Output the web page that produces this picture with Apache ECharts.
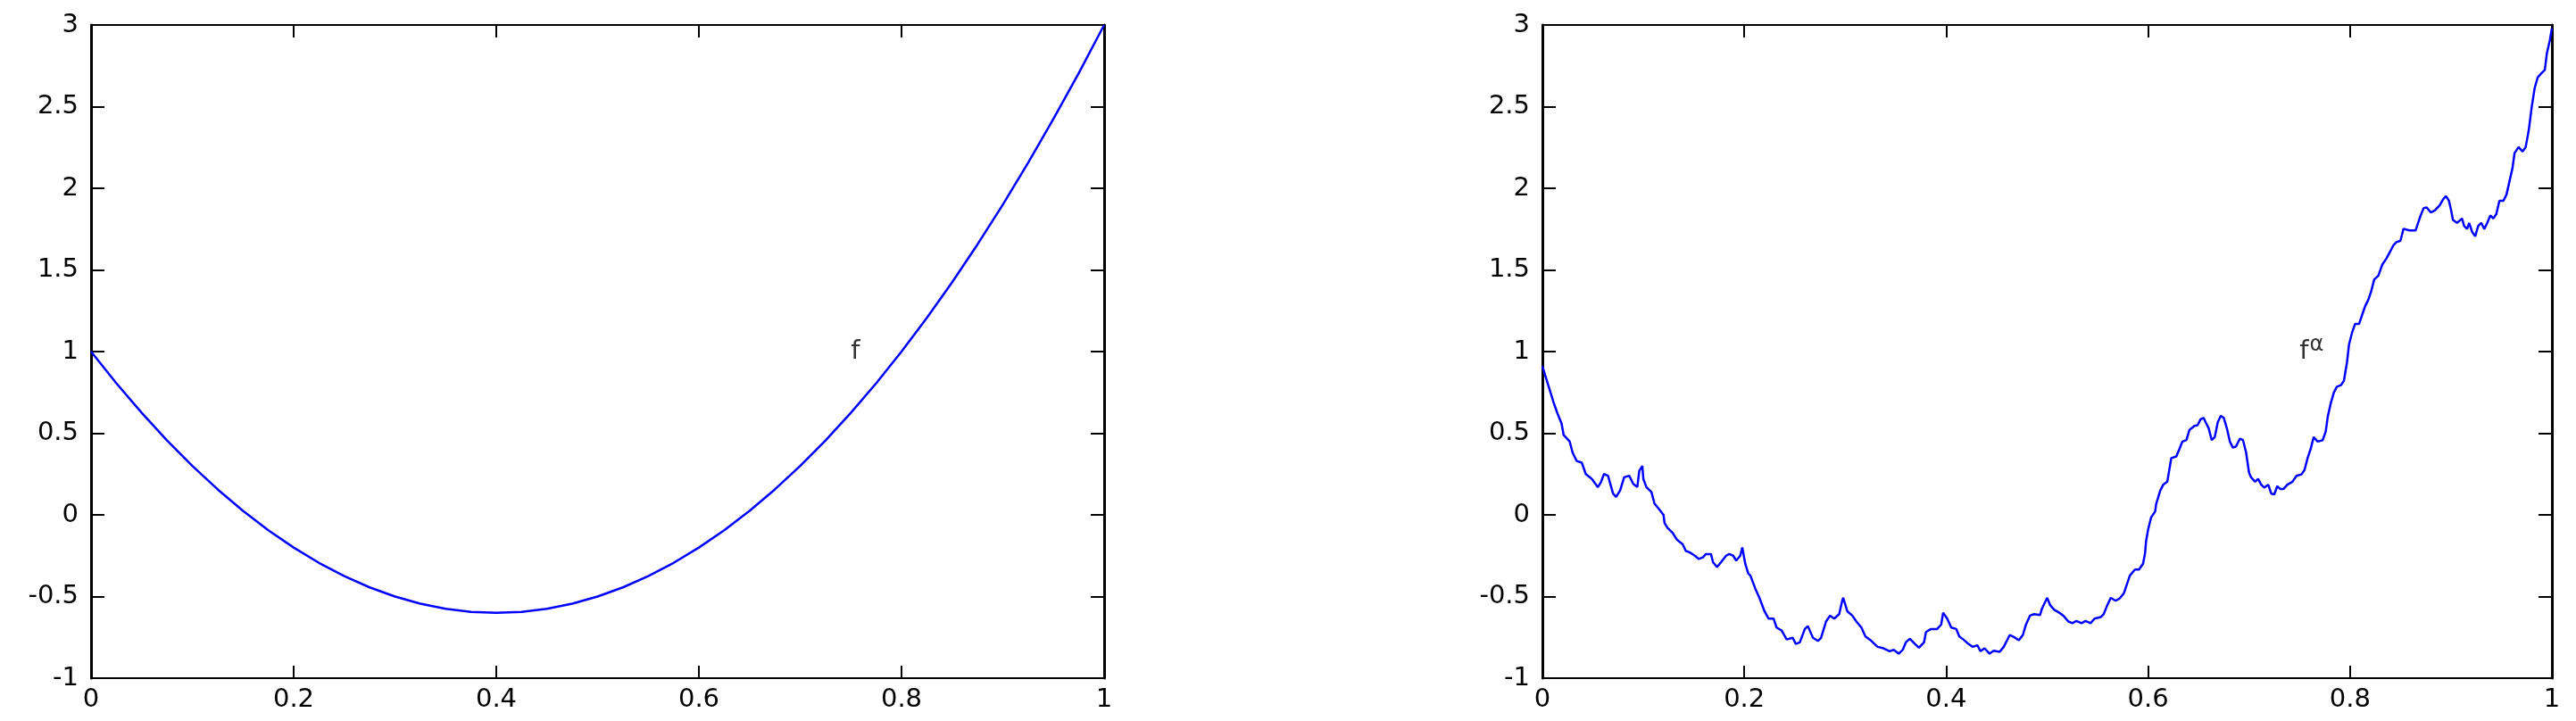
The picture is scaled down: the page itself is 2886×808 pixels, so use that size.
<!DOCTYPE html>
<html>
<head>
<meta charset="utf-8">
<script src="https://cdn.jsdelivr.net/npm/echarts@6/dist/echarts.min.js"></script>
<style>
html,body{margin:0;padding:0;background:#fff;}
#chart{width:2886px;height:808px;}
</style>
</head>
<body>
<div id="chart"></div>
<script>
// ---- data ----
const xTicks = ['0', '0.2', '0.4', '0.6', '0.8', '1'];
const yTicks = ['-1', '-0.5', '0', '0.5', '1', '1.5', '2', '2.5', '3'];

const leftX = [0, 0.025, 0.05, 0.075, 0.1, 0.125, 0.15, 0.175, 0.2, 0.225, 0.25, 0.275, 0.3, 0.325, 0.35, 0.375, 0.4,
  0.425, 0.45, 0.475, 0.5, 0.525, 0.55, 0.575, 0.6, 0.625, 0.65, 0.675, 0.7, 0.725, 0.75, 0.775, 0.8, 0.825, 0.85,
  0.875, 0.9, 0.925, 0.95, 0.975, 1];
const leftY = [1, 0.806, 0.625, 0.456, 0.3, 0.156, 0.025, -0.094, -0.2, -0.294, -0.375, -0.444, -0.5, -0.544, -0.575,
  -0.594, -0.6, -0.594, -0.575, -0.544, -0.5, -0.444, -0.375, -0.294, -0.2, -0.094, 0.025, 0.156, 0.3, 0.456, 0.625,
  0.806, 1, 1.206, 1.425, 1.656, 1.9, 2.156, 2.425, 2.706, 3];

const rightX = [0, 0.006, 0.011, 0.015, 0.019, 0.021, 0.027, 0.030, 0.034, 0.039, 0.043, 0.049, 0.055, 0.058, 0.061,
  0.065, 0.070, 0.073, 0.077, 0.081, 0.086, 0.090, 0.094, 0.096, 0.099, 0.100, 0.103, 0.108, 0.111, 0.115, 0.120,
  0.121, 0.124, 0.129, 0.133, 0.139, 0.142, 0.146, 0.151, 0.155, 0.159, 0.162, 0.167, 0.169, 0.173, 0.177, 0.182,
  0.185, 0.189, 0.192, 0.196, 0.198, 0.201, 0.204, 0.206, 0.211, 0.215, 0.220, 0.224, 0.229, 0.232, 0.237, 0.242,
  0.248, 0.251, 0.255, 0.260, 0.263, 0.268, 0.273, 0.276, 0.281, 0.285, 0.289, 0.294, 0.297, 0.298, 0.302, 0.307,
  0.311, 0.316, 0.320, 0.326, 0.332, 0.338, 0.344, 0.348, 0.353, 0.357, 0.360, 0.364, 0.369, 0.373, 0.378, 0.380,
  0.385, 0.391, 0.395, 0.397, 0.401, 0.405, 0.410, 0.413, 0.417, 0.422, 0.426, 0.431, 0.434, 0.438, 0.443, 0.447,
  0.453, 0.457, 0.460, 0.463, 0.467, 0.472, 0.476, 0.479, 0.483, 0.487, 0.493, 0.495, 0.500, 0.503, 0.507, 0.512,
  0.516, 0.521, 0.525, 0.529, 0.534, 0.538, 0.543, 0.547, 0.553, 0.556, 0.559, 0.563, 0.568, 0.572, 0.576, 0.579,
  0.582, 0.587, 0.591, 0.595, 0.597, 0.598, 0.600, 0.603, 0.607, 0.608, 0.612, 0.615, 0.619, 0.621, 0.623, 0.628,
  0.631, 0.634, 0.638, 0.641, 0.646, 0.649, 0.652, 0.655, 0.657, 0.660, 0.663, 0.666, 0.669, 0.672, 0.675, 0.678,
  0.681, 0.684, 0.687, 0.691, 0.694, 0.697, 0.700, 0.702, 0.706, 0.709, 0.712, 0.715, 0.719, 0.722, 0.725, 0.728,
  0.731, 0.734, 0.738, 0.743, 0.747, 0.752, 0.755, 0.758, 0.761, 0.764, 0.768, 0.773, 0.776, 0.778, 0.781, 0.784,
  0.787, 0.791, 0.794, 0.797, 0.799, 0.802, 0.805, 0.809, 0.812, 0.815, 0.818, 0.821, 0.824, 0.828, 0.832, 0.836,
  0.840, 0.843, 0.846, 0.850, 0.853, 0.859, 0.865, 0.870, 0.873, 0.876, 0.880, 0.884, 0.889, 0.892, 0.895, 0.898,
  0.900, 0.902, 0.906, 0.911, 0.913, 0.916, 0.918, 0.921, 0.924, 0.927, 0.930, 0.933, 0.936, 0.939, 0.942, 0.945,
  0.948, 0.952, 0.955, 0.958, 0.961, 0.963, 0.967, 0.971, 0.974, 0.977, 0.980, 0.983, 0.986, 0.990, 0.993, 0.995,
  0.998, 1.0];
const rightY = [0.91, 0.79, 0.69, 0.62, 0.56, 0.49, 0.45, 0.38, 0.33, 0.32, 0.25, 0.22, 0.17, 0.2, 0.25,
  0.24, 0.13, 0.11, 0.15, 0.23, 0.24, 0.19, 0.17, 0.27, 0.30, 0.22, 0.17, 0.14, 0.07, 0.04, 0.0,
  -0.05, -0.08, -0.11, -0.15, -0.18, -0.22, -0.23, -0.25, -0.27, -0.26, -0.24, -0.24, -0.29, -0.32, -0.29, -0.25,
  -0.24, -0.25, -0.28, -0.25, -0.2, -0.30, -0.36, -0.371, -0.453, -0.508, -0.590, -0.635, -0.635, -0.69, -0.708, -0.763,
  -0.753, -0.79, -0.781, -0.699, -0.681, -0.753, -0.772, -0.753, -0.653, -0.617, -0.635, -0.608, -0.526, -0.508, -0.590, -0.617,
  -0.653, -0.690, -0.744, -0.772, -0.808, -0.817, -0.835, -0.826, -0.85, -0.826, -0.781, -0.759, -0.79, -0.814, -0.781, -0.717,
  -0.699, -0.699, -0.672, -0.599, -0.635, -0.690, -0.699, -0.744, -0.763, -0.790, -0.808, -0.799, -0.835, -0.817, -0.850, -0.832,
  -0.839, -0.808, -0.772, -0.735, -0.748, -0.768, -0.735, -0.672, -0.617, -0.608, -0.613, -0.572, -0.508, -0.553, -0.581, -0.599,
  -0.617, -0.653, -0.663, -0.650, -0.663, -0.650, -0.663, -0.635, -0.626, -0.608, -0.562, -0.508, -0.526, -0.511, -0.480, -0.426,
  -0.371, -0.335, -0.335, -0.299, -0.235, -0.161, -0.09, -0.016, 0.021, 0.066, 0.148, 0.185, 0.203, 0.276, 0.348, 0.358,
  0.403, 0.449, 0.458, 0.521, 0.545, 0.549, 0.585, 0.594, 0.567, 0.531, 0.458, 0.476, 0.567, 0.607, 0.594, 0.531,
  0.449, 0.412, 0.418, 0.467, 0.458, 0.385, 0.258, 0.230, 0.203, 0.221, 0.185, 0.167, 0.185, 0.130, 0.126, 0.176,
  0.158, 0.158, 0.185, 0.203, 0.239, 0.248, 0.276, 0.348, 0.403, 0.476, 0.449, 0.458, 0.512, 0.603, 0.685, 0.749,
  0.785, 0.794, 0.822, 0.933, 1.042, 1.115, 1.169, 1.169, 1.224, 1.278, 1.315, 1.369, 1.442, 1.464, 1.533, 1.569,
  1.615, 1.651, 1.670, 1.679, 1.752, 1.742, 1.742, 1.834, 1.879, 1.883, 1.852, 1.864, 1.897, 1.930, 1.952, 1.924,
  1.870, 1.806, 1.788, 1.815, 1.770, 1.751, 1.788, 1.733, 1.706, 1.770, 1.788, 1.751, 1.788, 1.834, 1.815, 1.843,
  1.924, 1.924, 1.961, 2.043, 2.125, 2.216, 2.252, 2.225, 2.252, 2.352, 2.498, 2.616, 2.680, 2.707, 2.725, 2.825,
  2.907, 2.98];

const leftNote = [0.75, 1];
const rightNote = [0.75, 1];
const leftNoteText = 'f';
const rightNoteText = 'f';
const rightNoteSup = 'α';

// ---- chart ----
const FONT = 'DejaVu Sans';
const black = '#000';
const blue = '#0000ff';

const xLim = [0, 1], xStep = 0.2;
const yLim = [-1, 3], yStep = 0.5;

function makeX(gridIndex, position, showLabel) {
  return {
    type: 'value', gridIndex, position, min: xLim[0], max: xLim[1], interval: xStep,
    axisLine: { show: true, onZero: false, lineStyle: { color: black, width: 2 } },
    axisTick: { show: true, inside: true, length: 14, lineStyle: { color: black, width: 2 } },
    axisLabel: {
      show: showLabel, color: black, fontFamily: FONT, fontSize: 29, margin: 10,
      formatter: (v) => { const i = Math.round((v - xLim[0]) / xStep); return xTicks[i] !== undefined ? xTicks[i] : ''; }
    },
    splitLine: { show: false }
  };
}
function makeY(gridIndex, position, showLabel) {
  return {
    type: 'value', gridIndex, position, min: yLim[0], max: yLim[1], interval: yStep,
    axisLine: { show: true, onZero: false, lineStyle: { color: black, width: 3 } },
    axisTick: { show: true, inside: true, length: 15, lineStyle: { color: black, width: 2 } },
    axisLabel: {
      show: showLabel, color: black, fontFamily: FONT, fontSize: 29, margin: 14,
      formatter: (v) => { const i = Math.round((v - yLim[0]) / yStep); return yTicks[i] !== undefined ? yTicks[i] : ''; }
    },
    splitLine: { show: false }
  };
}

const chart = echarts.init(document.getElementById('chart'), null, { renderer: 'canvas' });
chart.setOption({
  backgroundColor: '#fff',
  animation: false,
  grid: [
    { left: 102, right: 2886 - 1237, top: 28, bottom: 808 - 760 },
    { left: 1728, right: 2886 - 2859, top: 28, bottom: 808 - 760 }
  ],
  xAxis: [makeX(0, 'bottom', true), makeX(0, 'top', false), makeX(1, 'bottom', true), makeX(1, 'top', false)],
  yAxis: [makeY(0, 'left', true), makeY(0, 'right', false), makeY(1, 'left', true), makeY(1, 'right', false)],
  series: [
    {
      type: 'line', xAxisIndex: 0, yAxisIndex: 0, showSymbol: false, symbol: 'none',
      lineStyle: { color: blue, width: 2.5 },
      data: leftX.map((x, i) => [x, leftY[i]])
    },
    {
      type: 'line', xAxisIndex: 2, yAxisIndex: 2, showSymbol: false, symbol: 'none',
      lineStyle: { color: blue, width: 2.5 },
      data: rightX.map((x, i) => [x, rightY[i]])
    },
    {
      type: 'scatter', xAxisIndex: 0, yAxisIndex: 0, symbolSize: 0, silent: true,
      data: [leftNote],
      label: { show: true, position: 'right', distance: 0, color: black, fontFamily: FONT, fontSize: 29,
        formatter: () => leftNoteText }
    },
    {
      type: 'scatter', xAxisIndex: 2, yAxisIndex: 2, symbolSize: 0, silent: true,
      data: [rightNote],
      label: { show: true, position: 'right', distance: 0, color: black, fontFamily: FONT, fontSize: 29,
        formatter: () => '{f|' + rightNoteText + '}{a|' + rightNoteSup + '}',
        rich: {
          f: { fontFamily: FONT, fontSize: 29, color: black },
          a: { fontFamily: FONT, fontSize: 24, color: black, padding: [0, 0, 14, 1] }
        }
      }
    }
  ]
});
</script>
</body>
</html>
